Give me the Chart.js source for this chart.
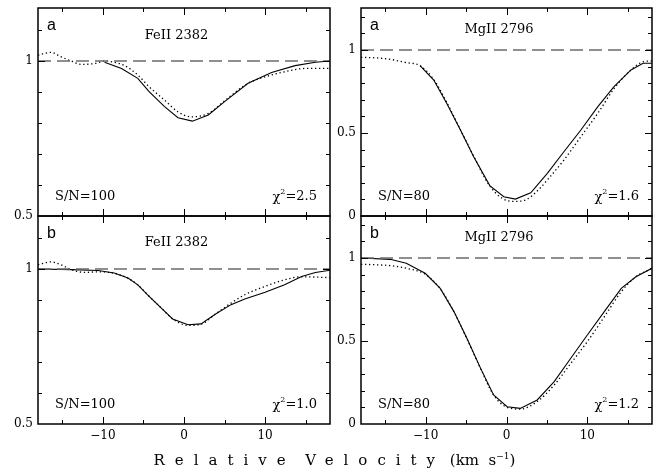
<!DOCTYPE html>
<html>
<head>
<meta charset="utf-8">
<script src="https://cdn.jsdelivr.net/npm/chart.js@4"></script>
<style>
  body { margin: 0; background: #fff; }
  #wrap { position: relative; width: 669px; height: 472px; overflow: hidden; background: #fff; }
  #wrap canvas { position: absolute; }
  .xtitle {
    position: absolute; left: 0; width: 669px; top: 451px; text-align: center;
    font-family: "DejaVu Serif", serif; font-size: 15px; color: #000; white-space: nowrap;
  }
  .xtitle .sp { letter-spacing: 10px; }
  .xtitle sup { font-size: 9px; }
</style>
</head>
<body>
<div id="wrap">
  <canvas id="feA"></canvas>
  <canvas id="mgA"></canvas>
  <canvas id="feB"></canvas>
  <canvas id="mgB"></canvas>
  <div class="xtitle"><span class="sp">Relative</span>&nbsp;&nbsp;<span class="sp">Velocity</span>&nbsp;(km&nbsp;&nbsp;s<sup>−1</sup>)</div>
</div>
<script>
// --- data (velocity in km/s, normalised flux) ---
const velMin = -18, velMax = 18;
const velMajor = [-10, 0, 10];
const velMinor = [-15, -5, 5, 15];

// FeII 2382, panel a
const feA_fitV = [-9.8, -7.7, -5.7, -4.3, -2.4, -0.74, 1.03, 3.0, 5.0, 7.9, 10.8, 13.7, 16.2, 18];
const feA_fit  = [0.996, 0.976, 0.944, 0.901, 0.853, 0.817, 0.806, 0.826, 0.869, 0.928, 0.963, 0.985, 0.996, 1.0];
const feA_obsV = [-18, -16.4, -15.2, -13.9, -12.7, -11.0, -9.8, -8.6, -7.3, -5.7, -4.3, -2.4, -0.74, 0.9, 3.0, 5.4, 7.9, 10.4, 12.9, 15.0, 18];
const feA_obs  = [1.019, 1.028, 1.014, 1.0, 0.989, 0.992, 1.0, 0.996, 0.985, 0.955, 0.917, 0.874, 0.836, 0.820, 0.831, 0.88, 0.928, 0.952, 0.968, 0.976, 0.976];

// FeII 2382, panel b
const feB_fitV = [-18, -13.9, -10.6, -8.6, -6.9, -5.7, -4.3, -2.6, -1.4, 0.5, 2.1, 3.8, 5.8, 7.5, 10.0, 12.4, 14.5, 16.2, 18];
const feB_fit  = [1.0, 0.998, 0.995, 0.987, 0.971, 0.949, 0.912, 0.869, 0.839, 0.820, 0.823, 0.853, 0.885, 0.903, 0.925, 0.949, 0.976, 0.989, 0.996];
const feB_obsV = [-18, -16.4, -15.2, -13.9, -12.3, -10.6, -8.6, -6.9, -5.7, -4.3, -2.6, -1.4, 0.5, 2.1, 3.8, 5.8, 7.5, 10.0, 12.4, 14.5, 16.2, 18];
const feB_obs  = [1.014, 1.023, 1.014, 0.998, 0.989, 0.991, 0.986, 0.970, 0.949, 0.912, 0.869, 0.839, 0.818, 0.822, 0.853, 0.89, 0.917, 0.944, 0.965, 0.975, 0.974, 0.972];

// MgII 2796, panel a
const mgA_fitV = [-10.7, -9.0, -7.4, -5.7, -4.06, -2.07, -0.33, 1.1, 3.0, 5.05, 7.1, 9.2, 11.3, 13.3, 15.4, 16.9, 18];
const mgA_fit  = [0.906, 0.819, 0.679, 0.518, 0.357, 0.183, 0.116, 0.102, 0.14, 0.257, 0.387, 0.518, 0.659, 0.779, 0.88, 0.92, 0.92];
const mgA_obsV = [-18, -16, -14.4, -12.4, -10.7, -9, -7.4, -5.7, -4.0, -2.2, -0.5, 1.0, 2.5, 4.0, 5.05, 7.1, 9.2, 11.3, 13.3, 15.4, 17.0, 18];
const mgA_obs  = [0.956, 0.952, 0.944, 0.924, 0.906, 0.822, 0.685, 0.52, 0.355, 0.19, 0.105, 0.088, 0.1, 0.16, 0.217, 0.337, 0.478, 0.619, 0.767, 0.88, 0.93, 0.934];

// MgII 2796, panel b
const mgB_fitV = [-18, -14.4, -12.4, -10.06, -8.2, -6.5, -4.9, -3.2, -1.6, 0.08, 1.7, 3.8, 5.9, 7.95, 10.0, 12.1, 14.2, 16.0, 18];
const mgB_fit  = [1.0, 0.992, 0.968, 0.908, 0.817, 0.677, 0.516, 0.335, 0.175, 0.104, 0.094, 0.145, 0.255, 0.396, 0.536, 0.677, 0.817, 0.887, 0.938];
const mgB_obsV = [-18, -16, -14.4, -12.4, -10.06, -8.2, -6.5, -4.9, -3.2, -1.6, 0.08, 1.7, 3.8, 5.9, 7.95, 10.0, 12.1, 14.2, 16.0, 18];
const mgB_obs  = [0.962, 0.959, 0.954, 0.938, 0.902, 0.815, 0.675, 0.514, 0.333, 0.175, 0.1, 0.09, 0.135, 0.235, 0.365, 0.496, 0.646, 0.797, 0.887, 0.938];

const feTicksMajor = [0.5, 1];
const feTicksMinor = [0.6, 0.7, 0.8, 0.9, 1.1];
const mgTicksMajor = [0, 0.5, 1];
const mgTicksMinor = [0.1, 0.2, 0.3, 0.4, 0.6, 0.7, 0.8, 0.9, 1.1, 1.2];

const panelLetters = ["a", "a", "b", "b"];
const lineNames = ["FeII 2382", "MgII 2796", "FeII 2382", "MgII 2796"];
const snValues = ["100", "80", "100", "80"];
const chiValues = ["2.5", "1.6", "1.0", "1.2"];

const SERIF = '"DejaVu Serif", "Liberation Serif", serif';

const toPoints = (xs, ys) => xs.map((x, i) => ({ x: x, y: ys[i] }));

// --- panel drawing (frame, inward ticks, labels, notes) ---
const panelPlugin = {
    id: "panelDecor",
    afterDraw(chart, args, opts) {
        const ctx = chart.ctx;
        const a = chart.chartArea;
        const xs = chart.scales.x, ys = chart.scales.y;
        ctx.save();
        ctx.strokeStyle = "#000";
        ctx.lineWidth = 1.5;
        ctx.strokeRect(a.left, a.top, a.right - a.left, a.bottom - a.top);

        ctx.lineWidth = 1;
        const tickX = (v, len) => {
            const p = Math.round(xs.getPixelForValue(v)) + 0.5;
            ctx.beginPath();
            ctx.moveTo(p, a.bottom); ctx.lineTo(p, a.bottom - len);
            ctx.moveTo(p, a.top); ctx.lineTo(p, a.top + len);
            ctx.stroke();
        };
        const tickY = (v, len) => {
            const p = Math.round(ys.getPixelForValue(v)) + 0.5;
            ctx.beginPath();
            ctx.moveTo(a.left, p); ctx.lineTo(a.left + len, p);
            ctx.moveTo(a.right, p); ctx.lineTo(a.right - len, p);
            ctx.stroke();
        };
        velMajor.forEach(v => tickX(v, 7));
        velMinor.forEach(v => tickX(v, 4));
        opts.yMajor.forEach(v => { if (v > ys.min && v < ys.max) tickY(v, 7); });
        opts.yMinor.forEach(v => { if (v < ys.max) tickY(v, 4); });

        ctx.fillStyle = "#000";
        ctx.font = "12px " + SERIF;
        ctx.textAlign = "right";
        ctx.textBaseline = "middle";
        opts.yMajor.forEach(v => {
            if (v <= ys.max && v >= ys.min) {
                ctx.fillText(String(v), a.left - 5, ys.getPixelForValue(v));
            }
        });
        if (opts.showX) {
            ctx.textAlign = "center";
            velMajor.forEach(v => {
                const t = v < 0 ? "\u2212" + Math.abs(v) : String(v);
                ctx.fillText(t, xs.getPixelForValue(v), a.bottom + 12);
            });
        }

        // panel letter
        ctx.textAlign = "left";
        ctx.font = "16px \"Liberation Sans\", Arial, sans-serif";
        ctx.fillText(opts.letter, a.left + 9, a.top + 18);

        // line name
        ctx.font = "13px " + SERIF;
        ctx.textAlign = "center";
        const cx = (a.left + a.right) / 2 - 7.5;
        ctx.fillText(opts.name, cx, a.top + opts.nameDy);

        // S/N
        ctx.textAlign = "left";
        ctx.fillText("S/N=" + opts.sn, a.left + 17, a.bottom - 19);

        // chi^2
        const rest = "=" + opts.chi;
        const wRest = ctx.measureText(rest).width;
        const wChi = ctx.measureText("\u03c7").width;
        ctx.font = "8px " + SERIF;
        const wSup = ctx.measureText("2").width;
        let x = a.right - 13 - wRest - wSup - wChi;
        const y = a.bottom - 19;
        ctx.font = "13px " + SERIF;
        ctx.fillText("\u03c7", x, y + 1);
        x += wChi;
        ctx.font = "8px " + SERIF;
        ctx.fillText("2", x, y - 5);
        x += wSup;
        ctx.font = "13px " + SERIF;
        ctx.fillText(rest, x, y);
        ctx.restore();
    }
};

// plot areas in page pixels
const padL = 40, padT = 8, padR = 8, padB = 28;
const panels = [
    { id: "feA", left: 38, top: 8, right: 330, bottom: 216, yMin: 0.5, yMax: 1.171,
      fitV: feA_fitV, fit: feA_fit, obsV: feA_obsV, obs: feA_obs, fe: true, showX: false, nameDy: 28 },
    { id: "mgA", left: 361, top: 8, right: 652, bottom: 216, yMin: 0, yMax: 1.253,
      fitV: mgA_fitV, fit: mgA_fit, obsV: mgA_obsV, obs: mgA_obs, fe: false, showX: false, nameDy: 22 },
    { id: "feB", left: 38, top: 216, right: 330, bottom: 424, yMin: 0.5, yMax: 1.171,
      fitV: feB_fitV, fit: feB_fit, obsV: feB_obsV, obs: feB_obs, fe: true, showX: true, nameDy: 27 },
    { id: "mgB", left: 361, top: 216, right: 652, bottom: 424, yMin: 0, yMax: 1.253,
      fitV: mgB_fitV, fit: mgB_fit, obsV: mgB_obsV, obs: mgB_obs, fe: false, showX: true, nameDy: 22 }
];

panels.forEach((p, i) => {
    const canvas = document.getElementById(p.id);
    canvas.width = (p.right - p.left) + padL + padR;
    canvas.height = (p.bottom - p.top) + padT + padB;
    canvas.style.left = (p.left - padL) + "px";
    canvas.style.top = (p.top - padT) + "px";

    new Chart(canvas.getContext("2d"), {
        type: "line",
        data: {
            datasets: [
                {   // continuum level
                    data: toPoints([velMin, velMax], [1, 1]),
                    borderColor: "#6b6b6b", borderWidth: 1.6, borderDash: [13, 6],
                    pointRadius: 0
                },
                {   // observed profile
                    data: toPoints(p.obsV, p.obs),
                    borderColor: "#000", borderWidth: 1.3, borderDash: [1.3, 2.7],
                    cubicInterpolationMode: "monotone", pointRadius: 0
                },
                {   // fitted profile
                    data: toPoints(p.fitV, p.fit),
                    borderColor: "#000", borderWidth: 1.1, tension: 0,
                    pointRadius: 0
                }
            ]
        },
        options: {
            responsive: false,
            animation: false,
            events: [],
            layout: { padding: { left: padL, top: padT, right: padR, bottom: padB } },
            scales: {
                x: { type: "linear", min: velMin, max: velMax, display: false },
                y: { type: "linear", min: p.yMin, max: p.yMax, display: false }
            },
            plugins: {
                legend: { display: false },
                tooltip: { enabled: false },
                panelDecor: {
                    letter: panelLetters[i], name: lineNames[i], sn: snValues[i], chi: chiValues[i],
                    yMajor: p.fe ? feTicksMajor : mgTicksMajor,
                    yMinor: p.fe ? feTicksMinor : mgTicksMinor,
                    showX: p.showX, nameDy: p.nameDy
                }
            }
        },
        plugins: [panelPlugin]
    });
});
</script>
</body>
</html>
